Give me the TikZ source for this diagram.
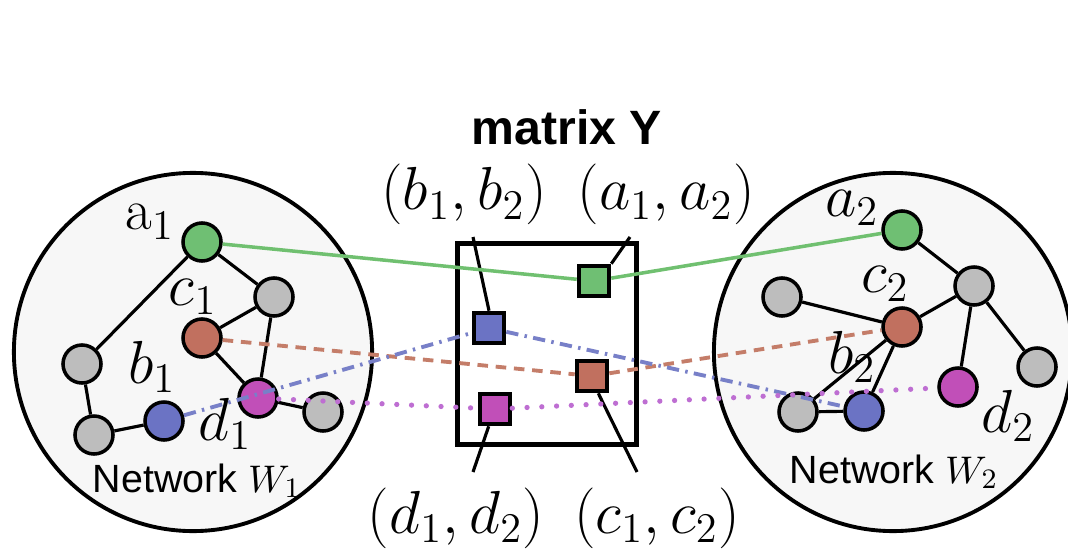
\documentclass[tikz,border=0pt]{standalone}
\usepackage{fontspec}
\setsansfont{Liberation Sans}
\definecolor{netbg}{RGB}{247,247,247}
\definecolor{ngray}{RGB}{189,189,189}
\definecolor{ngreen}{RGB}{111,191,115}
\definecolor{nbrown}{RGB}{193,112,95}
\definecolor{nblue}{RGB}{107,115,196}
\definecolor{nmag}{RGB}{193,79,184}
\definecolor{lgreen}{RGB}{112,192,112}
\definecolor{lbrown}{RGB}{196,125,105}
\definecolor{lblue}{RGB}{120,128,200}
\definecolor{lmag}{RGB}{190,110,210}
\tikzset{
  netw/.style={circle, draw, line width=1.1pt, fill=netbg, minimum size=3.58cm, inner sep=0pt},
  vtx/.style={circle, draw, line width=1pt, minimum size=0.38cm, inner sep=0pt},
  cell/.style={rectangle, draw, line width=1.3pt, minimum size=0.30cm, inner sep=0pt},
  lbl/.style={font=\fontsize{16.5}{20}\selectfont, inner sep=0pt, anchor=base},
  netlbl/.style={font=\sffamily\fontsize{11.2}{13}\selectfont, inner sep=0pt, anchor=base},
}
\begin{document}
\begin{tikzpicture}[x=0.01cm, y=-0.01cm]
\useasboundingbox (0,0) rectangle (1068,552);
\node[netw] (W1) at (193,352) {};
\node[netw] (W2) at (893,352) {};
\node[draw, line width=1.4pt, minimum width=1.79cm, minimum height=2.01cm] (Y) at (547,344) {};
\node[font=\sffamily\bfseries\fontsize{13.7}{16}\selectfont, inner sep=0pt, anchor=base] (title) at (567,145) {matrix Y};

\node[vtx, fill=ngreen] (a1) at (202,242) {};
\node[vtx, fill=ngray] (g1) at (274,297) {};
\node[vtx, fill=nbrown] (c1) at (202,338) {};
\node[vtx, fill=ngray] (gl1) at (82,364) {};
\node[vtx, fill=nblue] (b1) at (164,421) {};
\node[vtx, fill=ngray] (gb1) at (94,435) {};
\node[vtx, fill=nmag] (d1) at (258,398) {};
\node[vtx, fill=ngray] (gr1) at (323,412) {};
\foreach \u/\v in {a1/gl1, a1/g1, g1/c1, g1/d1, c1/d1, gl1/gb1, gb1/b1, d1/gr1}
  \draw[line width=0.9pt] (\u) -- (\v);

\node[vtx, fill=ngreen] (a2) at (902,230) {};
\node[vtx, fill=ngray] (g2) at (974,286) {};
\node[vtx, fill=ngray] (gl2) at (782,297) {};
\node[vtx, fill=nbrown] (c2) at (902,327) {};
\node[vtx, fill=ngray] (gr2) at (1037,367) {};
\node[vtx, fill=nmag] (d2) at (958,387) {};
\node[vtx, fill=ngray] (gb2) at (798,412) {};
\node[vtx, fill=nblue] (b2) at (864,411) {};
\foreach \u/\v in {a2/g2, g2/c2, g2/d2, g2/gr2, gl2/c2, c2/gb2, c2/b2, gb2/b2}
  \draw[line width=0.9pt] (\u) -- (\v);

\node[lbl] (la1) at (150,230) {$\mathrm{a}_1$};
\node[lbl] (lc1) at (193,305) {$c_1$};
\node[lbl] (lb1) at (152,383) {$b_1$};
\node[lbl] (ld1) at (225,440) {$d_1$};
\node[netlbl] (nw1) at (197,492) {Network $W_1$};
\node[lbl] (la2) at (852,216) {$a_2$};
\node[lbl] (lc2) at (885,292) {$c_2$};
\node[lbl] (lb2) at (852,373) {$b_2$};
\node[lbl] (ld2) at (1008,432) {$d_2$};
\node[netlbl] (nw2) at (894,483) {Network $W_2$};

\node[cell, fill=ngreen] (sa) at (594,281) {};
\node[cell, fill=nblue] (sb) at (489,328) {};
\node[cell, fill=nbrown] (sc) at (592,376) {};
\node[cell, fill=nmag] (sd) at (495,409) {};

\node[lbl] (pb) at (464,210) {$(b_1,b_2)$};
\node[lbl] (pa) at (666,210) {$(a_1,a_2)$};
\node[lbl] (pd) at (456,533) {$(d_1,d_2)$};
\node[lbl] (pc) at (657,533) {$(c_1,c_2)$};
\coordinate (tb) at (473,237);
\coordinate (ta) at (630,237);
\coordinate (td) at (473,472);
\coordinate (tc) at (637,472);
\draw[line width=0.9pt] (sb.north) -- (tb);
\draw[line width=0.9pt] (sa.north east) -- (ta);
\draw[line width=0.9pt] (sd.250) -- (td);
\draw[line width=0.9pt] (sc.290) -- (tc);

\draw[lgreen, line width=1pt] (a1) -- (sa) -- (a2);
\draw[lbrown, line width=1.1pt, dash pattern=on 3pt off 2.2pt] (c1) -- (sc) -- (c2);
\draw[lblue, line width=1.1pt, dash pattern=on 3.5pt off 1.8pt on 0.7pt off 1.8pt] (b1) -- (sb) -- (b2);
\draw[lmag, line width=1.5pt, line cap=round, dash pattern=on 0pt off 4.2pt] (d1) -- (sd) -- (d2);
\end{tikzpicture}
\end{document}
